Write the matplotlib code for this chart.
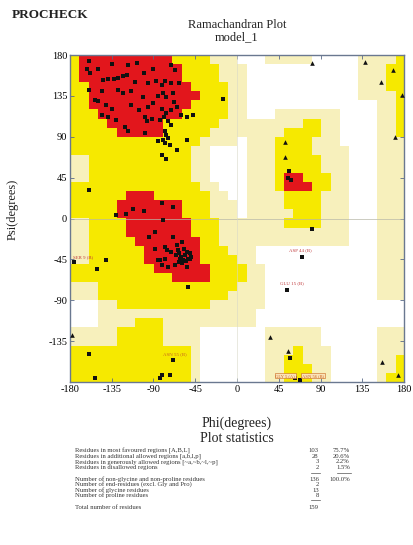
import numpy as np
import matplotlib
matplotlib.use('Agg')
import matplotlib.pyplot as plt
from matplotlib.colors import ListedColormap

plt.rcParams['font.family'] = ['Liberation Serif', 'DejaVu Serif']
plt.rcParams['axes.unicode_minus'] = False

# region map on a 10 degree grid, rows from psi=180 down to psi=-180,
# each row is a list of runs: code + number of cells (phi -180 -> 180)
# . = disallowed, p = generously allowed, y = additional allowed, r = most favoured
region_runs = [
    "y1 r10 y4 p3 .3 p5 .5 p4 y1",
    "y1 r11 y4 p3 .12 p3 y2",
    "y1 r11 y4 p3 .12 p3 y2",
    "y2 r11 y4 p2 .12 p3 y2",
    "y2 r12 y3 p2 .12 p4 y1",
    "y2 r11 y4 p2 .14 p2 y1",
    "y3 r9 y5 p2 .3 p7 .4 p2 y1",
    "y4 r6 y6 p9 y2 p2 .4 p2 y1",
    "y5 r5 y5 p8 y4 p2 .4 p2 y1",
    "y14 p4 .1 p3 y4 p3 .4 p3",
    "y13 p2 .4 p3 y4 p4 .3 p3",
    "p2 y11 p2 .4 p3 y5 p3 .3 p3",
    "p2 y11 p2 .4 p3 y5 p3 .3 p3",
    "p2 y11 p2 .4 p3 y1 r2 y3 p2 .3 p3",
    "y14 p2 .3 p3 y1 r3 y2 p2 .3 p3",
    "y6 r3 y6 p2 .2 p4 y4 p3 .3 p3",
    "y5 r7 y3 p3 .1 p4 y4 p3 .3 p3",
    "y5 r7 y3 p3 .1 p5 y3 p3 .3 p3",
    "p2 y4 r7 y3 p7 y4 p3 .3 p3",
    "p2 y4 r7 y3 p14 .3 p3",
    "p2 y5 r7 y2 p14 .3 p3",
    "p2 y6 r6 y3 p3 .13 p3",
    "p2 y6 r6 y4 p2 .13 p3",
    "y9 r6 y4 p2 .12 p3",
    "y11 r4 y4 p2 .12 p3",
    "p3 y15 p3 .12 p3",
    "p3 y14 p4 .12 p3",
    ".3 p2 y10 p6 .15",
    ".3 p17 .16",
    ".3 p4 y3 p10 .16",
    "p5 y5 p4 .7 p6 .6 p3",
    "p5 y5 p4 .7 p6 .6 p3",
    "y13 p1 .7 p3 y1 p3 .5 p3",
    "y13 p1 .7 p2 y2 p3 .5 p2 y1",
    "y13 p1 .7 p2 y3 p2 .5 p2 y1",
    "y13 p1 .7 p2 y3 p2 .5 p1 y2",
]
region_codes = {'.': 0, 'p': 1, 'y': 2, 'r': 3}
region_colors = ['#FFFFFF', '#F7F0BC', '#F6E900', '#E2161C']

# non-glycine residues (phi, psi)
res_phi = [-160, -162, -158, -117, -108, -71, -67, -150, -135, -100, -90,
           -144, -139, -133, -128, -123, -119,
           -160, -153, -150, -141, -135, -128, -123, -114, -101, -96, -87, -81,
           -78, -71, -62, -80, -76, -69, -114, -106, -96, -90, -81, -76, -71,
           -65, -99, -97, -92, -83, -79, -74, -71, -146, -139, -130, -121,
           -117, -99, -60, -54, -47, -78, -76, -74, -80, -78, -72, -85, -81,
           -76, -65, -54, -15, -160, -110, -145, -85, -68,
           -130, -112, -100, -81, -69, -80, -88, -69, -59, -75, -88, -78, -71,
           -65, -62, -60, -56, -53, -58, -63, -54, -51, -81, -74, -67, -78,
           -85, -83, -54, -57, -61, -66, -55, -50, -64, -95, -120, -141, -151,
           -53, -176, -51, -59,
           56, 55, 58, 81, 70, 54, -160, -153, -83, -81, -72, -69, 68, 62, 57]
res_psi = [173, 165, 160, 169, 171, 169, 163, 165, 170, 160, 165,
           152, 154, 154, 155, 157, 158,
           141, 130, 129, 125, 121, 141, 138, 140, 134, 149, 151, 147,
           151, 149, 149, 138, 134, 138, 125, 119, 123, 127, 121, 116, 119,
           123, 112, 107, 110, 108, 112, 107, 103, 114, 112, 108, 101,
           96, 94, 114, 112, 114, 96, 92, 89, 87, 83, 81, 85, 70,
           66, 75, 87, 132, 31, 150, 140, 135, 128,
           4, 11, 8, 17, 13, -2, -15, -20, -26, -35, -33, -31, -37,
           -29, -38, -42, -40, -44, -46, -48, -37, -38, -51, -53, -51, -44,
           -46, -46, -53, -33, -44, -40, -47, -42, -35, -20, 5, -46, -55,
           -75, -48, -45, -49,
           52, 45, 42, -11, -42, -79, -149, -176, -176, -172, -172, -156, -178, -176, -153]

# glycine residues (triangles)
gly_phi = [81, 138, 168, 178, 170, 155, 36, 156, -178, 174, 55, 52, 52]
gly_psi = [171, 172, 164, 136, 90, 150, -130, -158, -128, -172, -146, 84, 68]

# labelled residues outside the core regions
label_names = ['ASP 44 (B)', 'GLU 15 (B)', 'ASN 55 (B)', 'SER 9 (B)', 'GLY 5 (A)', 'ASN 56 (B)']
label_phi = [68, 59, -67, -166, 52, 82]
label_psi = [-35, -71, -149, -42, -173, -173]
label_colors = ['#C0393B', '#C0393B', '#C8641E', '#C0393B', '#C8641E', '#C8641E']
label_boxed = [False, False, False, False, True, True]

stat_labels = [
    'Residues in most favoured regions [A,B,L]',
    'Residues in additional allowed regions [a,b,l,p]',
    'Residues in generously allowed regions [~a,~b,~l,~p]',
    'Residues in disallowed regions',
    'Number of non-glycine and non-proline residues',
    'Number of end-residues (excl. Gly and Pro)',
    'Number of glycine residues',
    'Number of proline residues',
    'Total number of residues',
]
stat_counts = ['103', '28', '3', '2', '136', '2', '13', '8', '159']
stat_pcts = ['75.7%', '20.6%', '2.2%', '1.5%', '100.0%']


def expand(run):
    row = []
    for tok in run.split():
        row += [region_codes[tok[0]]] * int(tok[1:])
    assert len(row) == 36, run
    return row


grid = np.array([expand(r) for r in region_runs])

fig = plt.figure(figsize=(4.14, 5.45), dpi=100)
ax = fig.add_axes([0.169, 0.299, 0.807, 0.600])
ax.imshow(grid, cmap=ListedColormap(region_colors), vmin=0, vmax=3,
          extent=[-180, 180, -180, 180], origin='upper', aspect='auto',
          interpolation='nearest')
ax.axhline(0, color='#B8B8A8', lw=0.5)
ax.axvline(0, color='#D8D8C8', lw=0.4)

ax.scatter(res_phi, res_psi, s=9, marker='s', c='#111111', linewidths=0, zorder=3)
ax.scatter(gly_phi, gly_psi, s=11, marker='^', c='#111111', linewidths=0, zorder=3)

for name, x, y, col, boxed in zip(label_names, label_phi, label_psi, label_colors, label_boxed):
    if boxed:
        ax.text(x, y, name, fontsize=3.3, color=col, ha='center', va='center', zorder=4,
                bbox=dict(boxstyle='square,pad=0.15', fc='#FBE3B8', ec=col, lw=0.4))
    else:
        ax.text(x, y, name, fontsize=3.5, color=col, ha='center', va='center', zorder=4)

ax.set_xlim(-180, 180)
ax.set_ylim(-180, 180)
ticks = list(range(-180, 181, 45))
ax.set_xticks(ticks)
ax.set_yticks(ticks)
ax.set_yticklabels([''] + [str(t) for t in ticks[1:]])
ax.tick_params(direction='in', top=True, right=True, length=3, width=0.6,
               color='#5A6A88', labelsize=7.5, pad=2)
for s in ax.spines.values():
    s.set_color('#6A7890')
    s.set_linewidth(1.0)

fig.text(0.029, 0.972, 'PROCHECK', fontsize=9.5, fontweight='bold', ha='left', va='center', color='#222222')
fig.text(0.572, 0.954, 'Ramachandran Plot', fontsize=9, ha='center', va='center', color='#222222')
fig.text(0.572, 0.931, 'model_1', fontsize=9, ha='center', va='center', color='#222222')
fig.text(0.031, 0.615, 'Psi(degrees)', fontsize=9, rotation=90, ha='center', va='center', color='#222222')
fig.text(0.572, 0.223, 'Phi(degrees)', fontsize=10, ha='center', va='center', color='#222222')
fig.text(0.572, 0.196, 'Plot statistics', fontsize=10, ha='center', va='center', color='#222222')

stat_y = [0.1725, 0.1624, 0.1523, 0.1422, 0.1211, 0.1110, 0.1009, 0.0908, 0.0697]
for i, (lab, cnt) in enumerate(zip(stat_labels, stat_counts)):
    fig.text(0.181, stat_y[i], lab, fontsize=4.8, ha='left', va='center', color='#333333')
    fig.text(0.770, stat_y[i], cnt, fontsize=4.8, ha='right', va='center', color='#333333')
    if i < len(stat_pcts):
        fig.text(0.845, stat_y[i], stat_pcts[i], fontsize=4.8, ha='right', va='center', color='#333333')

for x0, x1, y in [(0.752, 0.772, 0.132), (0.815, 0.847, 0.132), (0.752, 0.772, 0.0817)]:
    fig.add_artist(plt.Line2D([x0, x1], [y, y], transform=fig.transFigure, color='#555555', lw=0.5))

fig.savefig('out.png', dpi=100)
